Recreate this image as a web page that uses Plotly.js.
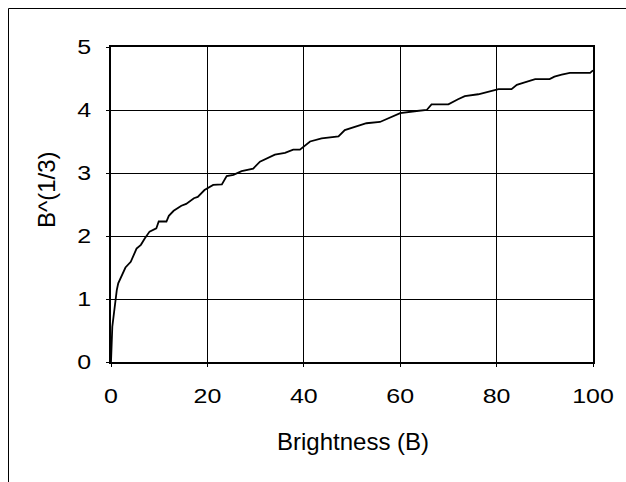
<!DOCTYPE html>
<html>
<head>
<meta charset="utf-8">
<script src="https://cdn.plot.ly/plotly-3.0.1.min.js"></script>
<style>html,body{margin:0;padding:0;background:#fff;}#chart{width:626px;height:482px;}</style>
</head>
<body>
<div id="chart"></div>
<script>
// Brightness values (x)
var brightness = [0, 0.27, 1.2, 1.5, 3.0, 4.1, 5.3, 6.2, 7.0, 8.0, 9.4, 9.9, 11.5, 12, 13, 14.6, 15.6, 17.2, 18, 19.4,
  21.2, 23, 24, 25.4, 27.1, 29.5, 30.9, 32.3, 34, 36.1, 37.8, 39.2, 41.3, 43.7, 47.2, 48.5, 50.3, 53, 55.8, 57.9,
  60, 63, 65.5, 66.5, 70, 72, 73.4, 76.2, 78.6, 80.4, 83.1, 84.2, 85.5, 88, 91, 92, 93.5, 95.2, 99.4, 100];
// B^(1/3) values (y)
var cubeRoot = [0, 0.56, 1.14, 1.25, 1.50, 1.59, 1.80, 1.86, 1.96, 2.07, 2.12, 2.23, 2.23, 2.32, 2.40, 2.48, 2.51, 2.60, 2.62, 2.73,
  2.81, 2.82, 2.95, 2.97, 3.03, 3.07, 3.18, 3.23, 3.29, 3.32, 3.37, 3.37, 3.50, 3.55, 3.58, 3.68, 3.72, 3.79, 3.81, 3.88,
  3.95, 3.98, 4.00, 4.09, 4.09, 4.17, 4.22, 4.25, 4.29, 4.33, 4.33, 4.40, 4.43, 4.49, 4.49, 4.53, 4.56, 4.59, 4.59, 4.63];
var xTicks = [0, 20, 40, 60, 80, 100];
var yTicks = [0, 1, 2, 3, 4, 5];
var xTitle = 'Brightness (B)';
var yTitle = 'B^(1/3)';

var fam = 'Liberation Sans, Arial, sans-serif';
var tickFont = {family: fam, size: 19.5, color: '#000'};
var titleFont = {family: fam, size: 24, color: '#000'};

var trace = {
  x: brightness, y: cubeRoot, type: 'scatter', mode: 'lines',
  line: {color: '#000', width: 1.8}, hoverinfo: 'skip', showlegend: false
};

var layout = {
  width: 626, height: 482,
  margin: {l: 111, r: 33, t: 47, b: 120, pad: 0},
  paper_bgcolor: '#fff', plot_bgcolor: '#fff',
  font: tickFont,
  showlegend: false,
  xaxis: {
    range: [0, 100], tickvals: xTicks, ticktext: xTicks.map(String),
    showgrid: true, gridcolor: '#000', gridwidth: 1,
    showline: true, linecolor: '#000', linewidth: 2, mirror: true,
    ticks: 'outside', ticklen: 3, tickcolor: '#000', tickwidth: 1,
    zeroline: false, tickfont: tickFont, ticklabelstandoff: 13
  },
  yaxis: {
    range: [0, 5], tickvals: yTicks, ticktext: yTicks.map(String),
    showgrid: true, gridcolor: '#000', gridwidth: 1,
    showline: true, linecolor: '#000', linewidth: 2, mirror: true,
    ticks: 'outside', ticklen: 3, tickcolor: '#000', tickwidth: 1,
    zeroline: false, tickfont: tickFont, ticklabelstandoff: 11
  },
  annotations: [
    {text: xTitle, xref: 'paper', yref: 'paper', x: 0.502, y: -0.2508,
     xanchor: 'center', yanchor: 'middle', showarrow: false, font: titleFont},
    {text: yTitle, xref: 'paper', yref: 'paper', x: -0.1349, y: 0.549, textangle: -90,
     xanchor: 'center', yanchor: 'middle', showarrow: false, font: titleFont}
  ],
  shapes: [{
    type: 'rect', xref: 'paper', yref: 'paper',
    x0: (8.5 - 111) / 482, x1: 2, y0: -2, y1: (362 - 8.5) / 315,
    line: {color: '#000', width: 1}, fillcolor: 'rgba(0,0,0,0)', layer: 'below'
  }]
};

Plotly.newPlot('chart', [trace], layout, {staticPlot: true, displayModeBar: false}).then(function (gd) {
  // the reference's tick digits are drawn wider than the plain font: widen the glyphs
  var labels = gd.querySelectorAll('.xtick text, .ytick text');
  labels.forEach(function (el) {
    var w = el.getComputedTextLength();
    el.setAttribute('textLength', (w * 1.28).toFixed(2));
    el.setAttribute('lengthAdjust', 'spacingAndGlyphs');
  });
});
</script>
</body>
</html>
